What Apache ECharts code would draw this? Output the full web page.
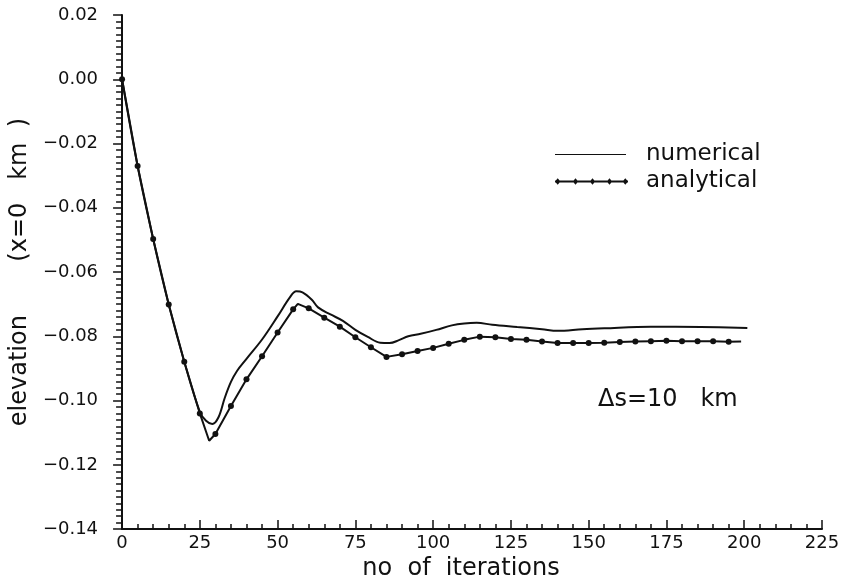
<!DOCTYPE html>
<html>
<head>
<meta charset="utf-8">
<title>elevation vs iterations</title>
<script src="https://cdn.jsdelivr.net/npm/echarts@6/dist/echarts.min.js"></script>
<style>
  html, body { margin: 0; padding: 0; background: #fff; }
  #chart { width: 844px; height: 586px; }
</style>
</head>
<body>
<div id="chart"></div>
<script>
// Elevation at x = 0 km against iteration count
const numericalIter = [0, 5, 10, 15, 20, 25, 27, 29, 31, 33, 35, 37, 40, 45, 50, 54, 56, 58, 61, 63, 67, 71, 75, 79, 83, 86, 89, 92, 96, 101, 106, 110, 114, 119, 127, 135, 140, 148, 155, 170, 186, 201];
const numericalElev = [0, -0.027, -0.0497, -0.0701, -0.0879, -0.1035, -0.1063, -0.1073, -0.1052, -0.0992, -0.0942, -0.0907, -0.0870, -0.0810, -0.0738, -0.0678, -0.0660, -0.0663, -0.0686, -0.0710, -0.0732, -0.0752, -0.0780, -0.0802, -0.0820, -0.0821, -0.0812, -0.0800, -0.0792, -0.0780, -0.0766, -0.0760, -0.0758, -0.0764, -0.0771, -0.0778, -0.0783, -0.0778, -0.0775, -0.0770, -0.0771, -0.0774];

const analyticalIter = [0, 5, 10, 15, 20, 25, 28, 30, 35, 40, 45, 50, 55, 56.5, 60, 65, 70, 75, 80, 85, 90, 95, 100, 105, 110, 115, 120, 125, 130, 135, 140, 145, 150, 155, 160, 165, 170, 175, 180, 185, 190, 195, 199];
const analyticalElev = [0, -0.027, -0.0497, -0.0701, -0.0879, -0.1040, -0.1125, -0.1104, -0.1017, -0.0934, -0.0862, -0.0788, -0.0716, -0.0699, -0.0713, -0.0742, -0.0770, -0.0803, -0.0834, -0.0864, -0.0856, -0.0846, -0.0836, -0.0823, -0.0811, -0.0801, -0.0803, -0.0808, -0.0811, -0.0816, -0.0821, -0.0821, -0.0821, -0.0820, -0.0818, -0.0816, -0.0815, -0.0814, -0.0815, -0.0815, -0.0815, -0.0817, -0.0816];

const FONT = 'DejaVu Sans';
const INK = '#111';

// markers on the analytical curve every 5 iterations
const analyticalData = analyticalIter.map((it, i) => {
  const marked = it % 5 === 0 && it <= 195;
  return { value: [it, analyticalElev[i]], symbol: marked ? 'circle' : 'none' };
});
const numericalData = numericalIter.map((it, i) => [it, numericalElev[i]]);

// legend glyphs; zero-area anchors keep the full 73x7 box so the line is not stretched
const ICON_BOX = 'M0,0L0,0Z M73,7L73,7Z ';
function plainLineIcon() {
  return 'path://' + ICON_BOX + 'M0,2.9H71V4.1H0Z';
}
function dottedLineIcon() {
  const centres = [2.7, 20.5, 37.5, 54.5, 70.3];
  let p = ICON_BOX + 'M0,2.6H73V4.4H0Z';
  centres.forEach(c => {
    p += `M${c - 2.7},3.5L${c},0.2L${c + 2.7},3.5L${c},6.8Z`;
  });
  return 'path://' + p;
}

const fmt = v => {
  const s = Math.abs(v) < 1e-9 ? '0.00' : v.toFixed(2);
  return s.replace('-', '\u2212');
};

const chart = echarts.init(document.getElementById('chart'), null, { renderer: 'canvas' });
chart.setOption({
  animation: false,
  backgroundColor: '#fff',
  textStyle: { fontFamily: FONT, color: INK },
  grid: { left: 118, right: 22, top: 15, bottom: 48 },
  legend: {
    orient: 'vertical',
    left: 555,
    top: 143,
    padding: 0,
    itemGap: 4,
    itemWidth: 73,
    itemHeight: 7,
    textStyle: { fontFamily: FONT, fontSize: 23, color: INK, padding: [0, 0, 0, 13] },
    data: [
      { name: 'numerical', icon: plainLineIcon() },
      { name: 'analytical', icon: dottedLineIcon() }
    ]
  },
  xAxis: {
    type: 'value',
    min: 0,
    max: 225,
    interval: 25,
    name: 'no  of  iterations',
    nameLocation: 'middle',
    nameGap: 20,
    nameTextStyle: { fontFamily: FONT, fontSize: 24, color: INK, padding: [0, 22, 0, 0] },
    axisLine: { show: true, onZero: false, lineStyle: { color: INK, width: 2 } },
    axisTick: { show: true, inside: true, length: 9, lineStyle: { color: INK, width: 1.5 } },
    minorTick: { show: true, splitNumber: 5, length: 5, lineStyle: { color: INK, width: 1.5 } },
    axisLabel: { fontFamily: FONT, fontSize: 18, color: INK, margin: 5 },
    splitLine: { show: false },
    minorSplitLine: { show: false }
  },
  yAxis: {
    type: 'value',
    min: -0.14,
    max: 0.02,
    interval: 0.02,
    name: 'elevation       (x=0   km  )',
    nameLocation: 'middle',
    nameGap: 70,
    nameTextStyle: { fontFamily: FONT, fontSize: 24, color: INK },
    axisLine: { show: true, onZero: false, lineStyle: { color: INK, width: 2 } },
    axisTick: { show: true, inside: false, length: 9, lineStyle: { color: INK, width: 1.5 } },
    minorTick: { show: true, splitNumber: 10, length: 6, lineStyle: { color: INK, width: 1.5 } },
    axisLabel: { fontFamily: FONT, fontSize: 18, color: INK, margin: 24, formatter: fmt },
    splitLine: { show: false },
    minorSplitLine: { show: false }
  },
  series: [
    {
      name: 'numerical',
      type: 'line',
      data: numericalData,
      smooth: 0.35,
      symbol: 'none',
      color: INK,
      lineStyle: { color: INK, width: 2 }
    },
    {
      name: 'analytical',
      type: 'line',
      data: analyticalData,
      smooth: false,
      symbolSize: 6,
      color: INK,
      itemStyle: { color: INK },
      lineStyle: { color: INK, width: 2 }
    }
  ],
  graphic: [
    {
      type: 'text',
      left: 598,
      top: 388,
      style: { text: '\u0394s=10   km', font: '24px "DejaVu Sans"', fill: INK }
    }
  ]
});
</script>
</body>
</html>
